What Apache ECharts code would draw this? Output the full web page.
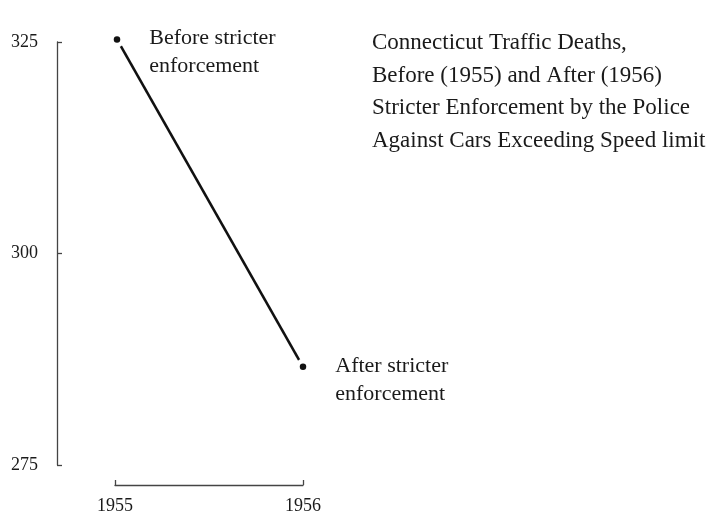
<!DOCTYPE html>
<html><head><meta charset="utf-8">
<script src="https://cdn.jsdelivr.net/npm/echarts@6/dist/echarts.min.js"></script>
<style>html,body{margin:0;padding:0;background:#fff}#c{width:710px;height:515px}</style>
</head><body><div id="c"></div>
<script>
const years = [1955, 1956];
const deaths = [325.3, 286.6];
const pointLabels = ['Before stricter\nenforcement', 'After stricter\nenforcement'];
const yTicks = [275, 300, 325];
const titleLines = ['Connecticut Traffic Deaths,', 'Before (1955) and After (1956)', 'Stricter Enforcement by the Police', 'Against Cars Exceeding Speed limit'];

const FONT = 'Liberation Serif';
const INK = '#1a1a1a';
const pts = years.map((y, i) => [y, deaths[i]]);

const chart = echarts.init(document.getElementById('c'));
chart.setOption({
  animation: false,
  backgroundColor: '#fff',
  title: {
    text: titleLines.join('\n'),
    left: 367, top: 22,
    textStyle: {fontFamily: FONT, fontSize: 23, fontWeight: 'normal', color: INK, lineHeight: 32.5}
  },
  grid: [
    {left: 57, top: 42, width: 303, height: 423},
    {left: 115, top: 484, width: 188, height: 1}
  ],
  xAxis: [
    {type: 'value', gridIndex: 0, min: 1955 - 60/186, max: 1956 + 57/186,
     axisLine: {show: false}, axisTick: {show: false}, axisLabel: {show: false}, splitLine: {show: false}},
    {type: 'value', gridIndex: 1, min: 1955, max: 1956, interval: 1, position: 'bottom',
     axisLine: {show: true, lineStyle: {color: '#444', width: 1.3}},
     axisTick: {show: true, inside: true, length: 5, lineStyle: {color: '#444', width: 1.3}},
     axisLabel: {show: true, margin: 12, fontFamily: FONT, fontSize: 18, color: INK,
                 formatter: v => String(v)},
     splitLine: {show: false}}
  ],
  yAxis: [
    {type: 'value', gridIndex: 0, min: yTicks[0], max: yTicks[yTicks.length-1], interval: 25,
     axisLine: {show: true, lineStyle: {color: '#444', width: 1.3}},
     axisTick: {show: true, inside: true, length: 5, lineStyle: {color: '#444', width: 1.3}},
     axisLabel: {fontFamily: FONT, fontSize: 18, color: INK, margin: 19},
     splitLine: {show: false}},
    {type: 'value', gridIndex: 1, show: false}
  ],
  series: [
    {type: 'line', xAxisIndex: 0, yAxisIndex: 0, data: pts, showSymbol: false, z: 2, clip: false,
     lineStyle: {color: '#111', width: 2.6}},
    {type: 'scatter', xAxisIndex: 0, yAxisIndex: 0, data: pts, symbolSize: 16, z: 3, clip: false,
     itemStyle: {color: '#fff', opacity: 1}, silent: true},
    {type: 'scatter', xAxisIndex: 0, yAxisIndex: 0, data: pts, symbolSize: 6.5, z: 4, clip: false,
     itemStyle: {color: '#111', opacity: 1},
     label: {show: true, position: 'right', distance: 29, offset: [0, 13],
             fontFamily: FONT, fontSize: 22, color: INK, lineHeight: 28,
             formatter: p => pointLabels[p.dataIndex]}}
  ]
});
</script></body></html>
